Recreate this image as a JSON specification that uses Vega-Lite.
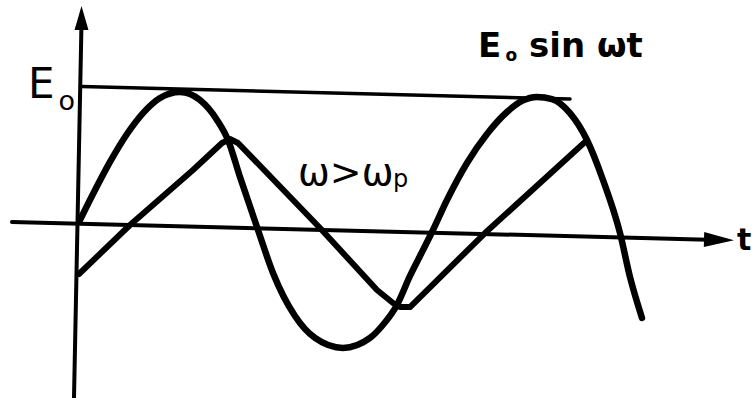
{
  "$schema": "https://vega.github.io/schema/vega-lite/v6.json",
  "width": 752,
  "height": 398,
  "autosize": "none",
  "padding": 0,
  "background": "white",
  "config": {"view": {"stroke": null}},
  "datasets": {
    "drive": [
      {"t": 0.00, "E": 0.015}, {"t": 0.13, "E": 0.215}, {"t": 0.30, "E": 0.462},
      {"t": 0.47, "E": 0.677}, {"t": 0.63, "E": 0.838}, {"t": 0.80, "E": 0.954},
      {"t": 1.00, "E": 1.000}, {"t": 1.20, "E": 0.938}, {"t": 1.37, "E": 0.785},
      {"t": 1.48, "E": 0.631}, {"t": 1.60, "E": 0.346}, {"t": 1.78, "E": -0.062},
      {"t": 1.93, "E": -0.392}, {"t": 2.15, "E": -0.723}, {"t": 2.35, "E": -0.892},
      {"t": 2.63, "E": -0.969}, {"t": 2.90, "E": -0.892}, {"t": 3.02, "E": -0.800},
      {"t": 3.17, "E": -0.638}, {"t": 3.30, "E": -0.415}, {"t": 3.42, "E": -0.231},
      {"t": 3.52, "E": -0.077}, {"t": 3.67, "E": 0.169}, {"t": 3.87, "E": 0.454},
      {"t": 4.07, "E": 0.677}, {"t": 4.27, "E": 0.846}, {"t": 4.42, "E": 0.931},
      {"t": 4.57, "E": 0.962}, {"t": 4.72, "E": 0.946}, {"t": 4.90, "E": 0.838},
      {"t": 5.07, "E": 0.631}, {"t": 5.23, "E": 0.323}, {"t": 5.40, "E": -0.085},
      {"t": 5.50, "E": -0.423}, {"t": 5.62, "E": -0.738}
    ],
    "response": [
      {"t": -0.01, "E": -0.400}, {"t": 0.50, "E": -0.023}, {"t": 1.13, "E": 0.400},
      {"t": 1.42, "E": 0.608}, {"t": 1.50, "E": 0.638}, {"t": 1.58, "E": 0.608},
      {"t": 2.40, "E": -0.046}, {"t": 2.97, "E": -0.523}, {"t": 3.13, "E": -0.623},
      {"t": 3.20, "E": -0.654}, {"t": 3.30, "E": -0.654}, {"t": 4.05, "E": -0.085},
      {"t": 5.05, "E": 0.615}
    ],
    "eAxis": [{"t": -0.06, "E": -1.354}, {"t": 0.014, "E": 1.492}],
    "tAxis": [{"t": -0.68, "E": 0.000}, {"t": 6.28, "E": -0.136}],
    "amplitude": [{"t": 0.02, "E": 1.042}, {"t": 4.90, "E": 0.946}]
  },
  "encoding": {
    "x": {"field": "t", "type": "quantitative", "axis": null,
          "scale": {"domain": [-0.8, 6.72], "nice": false, "zero": false}},
    "y": {"field": "E", "type": "quantitative", "axis": null,
          "scale": {"domain": [-1.353846, 1.707692], "nice": false, "zero": false}}
  },
  "layer": [
    {"data": {"name": "eAxis"},
     "mark": {"type": "line", "color": "#000", "strokeWidth": 4, "strokeCap": "round"}},
    {"data": {"name": "tAxis"},
     "mark": {"type": "line", "color": "#000", "strokeWidth": 4, "strokeCap": "round"}},
    {"data": {"name": "amplitude"},
     "mark": {"type": "line", "color": "#000", "strokeWidth": 3.5, "strokeCap": "round"}},
    {"data": {"values": [{"t": 0.015, "E": 1.569}]},
     "mark": {"type": "point", "shape": "M0,-1L-0.58,1L0.58,1Z", "size": 576,
              "filled": true, "color": "#000", "opacity": 1}},
    {"data": {"values": [{"t": 6.39, "E": -0.138}]},
     "mark": {"type": "point", "shape": "M1,0L-1,-0.5L-1,0.5Z", "size": 900, "angle": 1.4,
              "filled": true, "color": "#000", "opacity": 1}},
    {"data": {"name": "drive"},
     "mark": {"type": "line", "color": "#000", "strokeWidth": 6.5, "interpolate": "monotone",
              "strokeCap": "round", "strokeJoin": "round"}},
    {"data": {"name": "response"},
     "mark": {"type": "line", "color": "#000", "strokeWidth": 6, "strokeCap": "round",
              "strokeJoin": "round"}},
    {"data": {"values": [{"t": -0.52, "E": 0.954, "label": "E"}]},
     "mark": {"type": "text", "align": "left", "baseline": "alphabetic", "font": "DejaVu Sans",
              "fontSize": 42, "color": "#000"},
     "encoding": {"text": {"field": "label"}}},
    {"data": {"values": [{"t": -0.215, "E": 0.862, "label": "o"}]},
     "mark": {"type": "text", "align": "left", "baseline": "alphabetic", "font": "DejaVu Sans",
              "fontSize": 27, "color": "#000"},
     "encoding": {"text": {"field": "label"}}},
    {"data": {"values": [{"t": 3.98, "E": 1.269, "label": "E"}, {"t": 4.49, "E": 1.269, "label": "sin ωt"}]},
     "mark": {"type": "text", "align": "left", "baseline": "alphabetic", "font": "DejaVu Sans",
              "fontWeight": "bold", "fontSize": 34, "color": "#000"},
     "encoding": {"text": {"field": "label"}}},
    {"data": {"values": [{"t": 4.255, "E": 1.238, "label": "o"}]},
     "mark": {"type": "text", "align": "left", "baseline": "alphabetic", "font": "DejaVu Sans",
              "fontWeight": "bold", "fontSize": 17, "color": "#000"},
     "encoding": {"text": {"field": "label"}}},
    {"data": {"values": [{"t": 2.18, "E": 0.285, "label": "ω>ω"}]},
     "mark": {"type": "text", "align": "left", "baseline": "alphabetic", "font": "DejaVu Sans",
              "fontSize": 38, "color": "#000"},
     "encoding": {"text": {"field": "label"}}},
    {"data": {"values": [{"t": 3.13, "E": 0.269, "label": "p"}]},
     "mark": {"type": "text", "align": "left", "baseline": "alphabetic", "font": "DejaVu Sans",
              "fontSize": 24, "color": "#000"},
     "encoding": {"text": {"field": "label"}}},
    {"data": {"values": [{"t": 6.57, "E": -0.215, "label": "t"}]},
     "mark": {"type": "text", "align": "left", "baseline": "alphabetic", "font": "DejaVu Sans",
              "fontWeight": "bold", "fontSize": 30, "color": "#000"},
     "encoding": {"text": {"field": "label"}}}
  ]
}
